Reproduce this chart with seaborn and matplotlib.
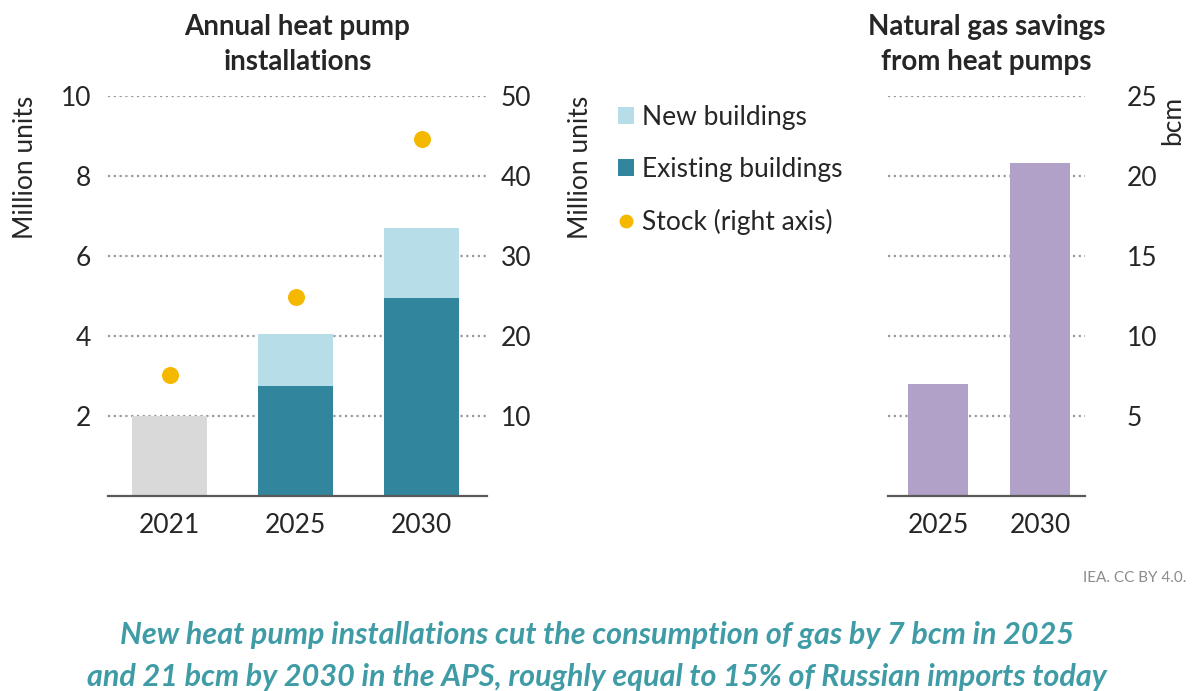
import numpy as np
import matplotlib
matplotlib.use("Agg")
import matplotlib.pyplot as plt
from matplotlib.patches import Patch
from matplotlib.lines import Line2D
import seaborn as sns

# ---- data -------------------------------------------------------------
years = ["2021", "2025", "2030"]
historical = [2.0, 0.0, 0.0]        # million units installed (2021)
existing = [0.0, 2.75, 4.95]        # million units, existing buildings
new = [0.0, 1.3, 1.74]              # million units, new buildings
stock = [15.1, 24.9, 44.6]          # million units in stock (right axis)

gas_years = ["2025", "2030"]
gas_savings = [7.0, 20.8]           # bcm

left_ticks = [2, 4, 6, 8, 10]
right_ticks = [10, 20, 30, 40, 50]
gas_ticks = [5, 10, 15, 20, 25]

# ---- style ------------------------------------------------------------
sns.set_theme(style="white")
plt.rcParams["font.family"] = ["Lato", "DejaVu Sans"]
TXT = "#262626"
GRID = "#9a9a9a"
BASE = "#595959"
C_HIST = "#d9d9d9"
C_NEW = "#b7dde8"
C_EXIST = "#31859c"
C_STOCK = "#f5b800"
C_GAS = "#b1a0c7"
FS = 19

fig = plt.figure(figsize=(11.95, 6.91), dpi=100)
W, H = 1195, 691

def px_axes(x0, x1, y_top, y_bot):
    return fig.add_axes([x0 / W, 1 - y_bot / H, (x1 - x0) / W, (y_bot - y_top) / H])

def style_axis(ax):
    for s in ["left", "right", "top"]:
        ax.spines[s].set_visible(False)
    ax.spines["bottom"].set_color(BASE)
    ax.spines["bottom"].set_linewidth(1.6)
    ax.tick_params(axis="both", length=0, labelsize=FS, colors=TXT)
    ax.tick_params(axis="x", pad=12)
    ax.yaxis.grid(True, linestyle=(0, (1, 1.6)), linewidth=1.6, color=GRID)
    ax.xaxis.grid(False)
    ax.set_axisbelow(True)
    ax.set_xlabel("")

# ---- left panel: annual installations ----------------------------------
ax = px_axes(108, 487, 96, 496)
totals = [h + e + n for h, e, n in zip(historical, existing, new)]
bar_cols = [C_HIST if h > 0 else C_NEW for h in historical]
sns.barplot(x=years, y=totals, hue=years, palette=bar_cols, legend=False,
            width=0.6, saturation=1, ax=ax, linewidth=0)
sns.barplot(x=years, y=existing, color=C_EXIST, width=0.6, saturation=1,
            ax=ax, linewidth=0)
ax.set_xlim(-0.49, 2.52)
ax.set_ylim(0, 10)
ax.set_yticks(left_ticks)
style_axis(ax)
ax.tick_params(axis="y", pad=12)
ax.set_ylabel("Million units", fontsize=FS, color=TXT, loc="top")
ax.yaxis.set_label_coords(-0.186, 1.0)
ax.set_title("Annual heat pump\ninstallations", fontsize=20, fontweight="bold",
             color=TXT, pad=19, linespacing=1.4)

ax2 = ax.twinx()
sns.scatterplot(x=np.arange(len(years)), y=stock, ax=ax2, color=C_STOCK,
                s=150, linewidth=0, zorder=5)
ax2.set_ylim(0, 50)
ax2.set_yticks(right_ticks)
ax2.grid(False)
for s in ["left", "right", "top", "bottom"]:
    ax2.spines[s].set_visible(False)
ax2.tick_params(axis="y", length=0, labelsize=FS, colors=TXT, pad=10)
ax2.set_ylabel("Million units", fontsize=FS, color=TXT, loc="top")
ax2.yaxis.set_label_coords(1.215, 1.0)

# ---- right panel: gas savings ------------------------------------------
axg = px_axes(888, 1085, 96, 496)
sns.barplot(x=gas_years, y=gas_savings, color=C_GAS, width=0.59, saturation=1,
            ax=axg, linewidth=0)
axg.set_xlim(-0.49, 1.44)
axg.set_ylim(0, 25)
axg.set_yticks(gas_ticks)
style_axis(axg)
axg.yaxis.tick_right()
axg.tick_params(axis="y", pad=30)
axg.yaxis.set_label_position("right")
axg.set_ylabel("bcm", fontsize=FS, color=TXT, loc="top")
axg.yaxis.set_label_coords(1.38, 1.0)
axg.set_title("Natural gas savings\nfrom heat pumps", fontsize=20,
              fontweight="bold", color=TXT, pad=19, linespacing=1.4)

# ---- legend -------------------------------------------------------------
handles = [
    Patch(facecolor=C_NEW, edgecolor="none", label="New buildings"),
    Patch(facecolor=C_EXIST, edgecolor="none", label="Existing buildings"),
    Line2D([0], [0], marker="o", linestyle="none", markersize=10,
           markerfacecolor=C_STOCK, markeredgewidth=0, label="Stock (right axis)"),
]
fig.legend(handles=handles, loc="upper left", bbox_to_anchor=(594 / W, 1 - 81 / H),
           frameon=False, fontsize=FS, handlelength=0.6, handleheight=0.6,
           handletextpad=0.3, labelspacing=1.02, labelcolor=TXT)

# ---- source and caption -----------------------------------------------
fig.text(1186 / W, 1 - 578 / H, "IEA. CC BY 4.0.", ha="right", va="center",
         fontsize=11, color="#8c8c8c")
caption = ("New heat pump installations cut the consumption of gas by 7 bcm in 2025\n"
           "and 21 bcm by 2030 in the APS, roughly equal to 15% of Russian imports today")
fig.text(597 / W, 1 - 656 / H, caption, ha="center", va="center", fontsize=22,
         color="#3f9ca6", style="italic", fontweight="bold", linespacing=1.65)

fig.savefig("out.png", dpi=100)
